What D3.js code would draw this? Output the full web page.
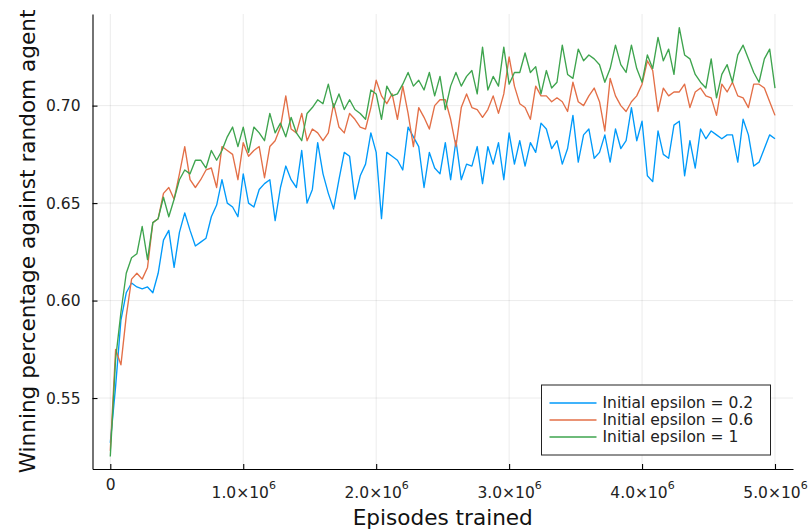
<!DOCTYPE html>
<html>
<head>
<meta charset="utf-8">
<script src="https://cdn.jsdelivr.net/npm/d3@7"></script>
<style>
	body { margin: 0; background: #fff; }
	text { font-family: "DejaVu Sans", sans-serif; }
</style>
</head>
<body>
<svg id="chart" width="808" height="532"></svg>
<script>
const WIDTH = 808,
	  HEIGHT = 532;

// episodes trained, sampled every 40000
const episodes = d3.range(0, 5000001, 40000);

const seriesNames = ["Initial epsilon = 0.2", "Initial epsilon = 0.6", "Initial epsilon = 1"];
const seriesColors = ["#009AFA", "#E36F47", "#3EA44E"];

const eps02 = [
	0.527, 0.556, 0.590, 0.604, 0.609, 0.607, 0.606, 0.607, 0.604, 0.614,
	0.631, 0.636, 0.617, 0.635, 0.645, 0.636, 0.628, 0.630, 0.632, 0.643,
	0.649, 0.662, 0.650, 0.648, 0.643, 0.665, 0.650, 0.648, 0.657, 0.660,
	0.662, 0.641, 0.658, 0.669, 0.662, 0.658, 0.677, 0.650, 0.657, 0.681,
	0.665, 0.655, 0.647, 0.662, 0.676, 0.674, 0.652, 0.664, 0.670, 0.686,
	0.676, 0.642, 0.676, 0.674, 0.672, 0.667, 0.689, 0.684, 0.679, 0.658,
	0.676, 0.668, 0.665, 0.681, 0.662, 0.682, 0.662, 0.670, 0.669, 0.679,
	0.660, 0.679, 0.670, 0.681, 0.662, 0.686, 0.670, 0.682, 0.669, 0.681,
	0.676, 0.691, 0.688, 0.678, 0.682, 0.670, 0.678, 0.695, 0.671, 0.685,
	0.688, 0.673, 0.676, 0.685, 0.671, 0.688, 0.678, 0.682, 0.699, 0.682,
	0.692, 0.664, 0.661, 0.687, 0.675, 0.673, 0.690, 0.692, 0.664, 0.682,
	0.668, 0.688, 0.683, 0.687, 0.685, 0.683, 0.685, 0.685, 0.671, 0.693,
	0.685, 0.669, 0.671, 0.678, 0.685, 0.683
];

const eps06 = [
	0.523, 0.575, 0.567, 0.592, 0.611, 0.614, 0.611, 0.617, 0.640, 0.642,
	0.655, 0.658, 0.652, 0.665, 0.679, 0.662, 0.658, 0.662, 0.667, 0.668,
	0.658, 0.679, 0.677, 0.675, 0.662, 0.681, 0.674, 0.677, 0.679, 0.663,
	0.679, 0.682, 0.689, 0.705, 0.688, 0.686, 0.696, 0.682, 0.688, 0.686,
	0.682, 0.686, 0.701, 0.689, 0.686, 0.696, 0.693, 0.689, 0.688, 0.699,
	0.713, 0.705, 0.701, 0.706, 0.693, 0.710, 0.696, 0.679, 0.699, 0.694,
	0.688, 0.700, 0.703, 0.703, 0.693, 0.679, 0.699, 0.706, 0.699, 0.698,
	0.694, 0.698, 0.705, 0.696, 0.706, 0.725, 0.710, 0.701, 0.699, 0.693,
	0.710, 0.705, 0.705, 0.702, 0.704, 0.702, 0.697, 0.712, 0.702, 0.700,
	0.705, 0.709, 0.702, 0.687, 0.714, 0.705, 0.700, 0.697, 0.702, 0.705,
	0.711, 0.723, 0.718, 0.697, 0.709, 0.705, 0.707, 0.707, 0.711, 0.699,
	0.707, 0.709, 0.705, 0.704, 0.695, 0.711, 0.707, 0.712, 0.705, 0.704,
	0.699, 0.711, 0.711, 0.709, 0.702, 0.695
];

const eps1 = [
	0.520, 0.570, 0.594, 0.614, 0.622, 0.624, 0.638, 0.621, 0.640, 0.642,
	0.653, 0.643, 0.652, 0.662, 0.667, 0.665, 0.672, 0.672, 0.668, 0.677,
	0.672, 0.677, 0.684, 0.689, 0.679, 0.689, 0.676, 0.689, 0.686, 0.682,
	0.696, 0.686, 0.691, 0.684, 0.694, 0.686, 0.682, 0.696, 0.699, 0.703,
	0.701, 0.711, 0.699, 0.706, 0.698, 0.703, 0.698, 0.696, 0.693, 0.708,
	0.706, 0.693, 0.710, 0.705, 0.706, 0.711, 0.717, 0.710, 0.713, 0.708,
	0.717, 0.705, 0.715, 0.698, 0.710, 0.717, 0.710, 0.715, 0.718, 0.706,
	0.730, 0.708, 0.715, 0.710, 0.730, 0.711, 0.717, 0.717, 0.727, 0.717,
	0.720, 0.706, 0.718, 0.709, 0.712, 0.731, 0.716, 0.714, 0.729, 0.723,
	0.726, 0.724, 0.721, 0.712, 0.719, 0.731, 0.721, 0.717, 0.731, 0.719,
	0.712, 0.726, 0.719, 0.735, 0.723, 0.729, 0.716, 0.740, 0.726, 0.724,
	0.716, 0.712, 0.709, 0.724, 0.704, 0.716, 0.721, 0.712, 0.726, 0.731,
	0.724, 0.717, 0.712, 0.724, 0.729, 0.709
];

const xTicks = [0, 1e6, 2e6, 3e6, 4e6, 5e6];
const yTicks = [0.55, 0.60, 0.65, 0.70];

const xLabel = "Episodes trained",
	  yLabel = "Winning percentage against random agent";

// plot area
const plotLeft = 92.5,
	  plotRight = 793,
	  plotTop = 14,
	  plotBottom = 469;

let svg = d3.select("#chart");

let x = d3.scaleLinear()
	.domain([-133900, 5135400])
	.range([plotLeft, plotRight]);

let y = d3.scaleLinear()
	.domain([0.5136, 0.747])
	.range([plotBottom, plotTop]);

// grid
let grid = svg.append("g").attr("class", "grid");

grid.selectAll(".vgrid")
	.data(xTicks)
	.join("line")
		.attr("x1", d => x(d))
		.attr("x2", d => x(d))
		.attr("y1", plotTop)
		.attr("y2", plotBottom)
		.style("stroke", "#000")
		.style("stroke-opacity", 0.1)
		.style("stroke-width", 0.8);

grid.selectAll(".hgrid")
	.data(yTicks)
	.join("line")
		.attr("x1", plotLeft)
		.attr("x2", plotRight)
		.attr("y1", d => y(d))
		.attr("y2", d => y(d))
		.style("stroke", "#000")
		.style("stroke-opacity", 0.1)
		.style("stroke-width", 0.8);

// series lines
let series = [eps02, eps06, eps1];
let line = d3.line()
	.x((d, i) => x(episodes[i]))
	.y(d => y(d));

svg.append("g")
	.selectAll("path")
	.data(series)
	.join("path")
		.attr("d", d => line(d))
		.style("fill", "none")
		.style("stroke", (d, i) => seriesColors[i])
		.style("stroke-width", 1.35)
		.style("stroke-linejoin", "round");

// y axis, ticks point inward
let yAxis = svg.append("g")
	.attr("transform", "translate(" + plotLeft + ",0)")
	.call(d3.axisLeft(y)
		.tickValues(yTicks)
		.tickFormat(d3.format(".2f"))
		.tickSizeInner(-5)
		.tickSizeOuter(0)
		.tickPadding(12));

// x axis
let xAxis = svg.append("g")
	.attr("transform", "translate(0," + plotBottom + ")")
	.call(d3.axisBottom(x)
		.tickValues(xTicks)
		.tickFormat("")
		.tickSizeInner(-5)
		.tickSizeOuter(0));

[xAxis, yAxis].forEach(a => {
	a.select(".domain").style("stroke", "#000").style("stroke-width", 1.1);
	a.selectAll(".tick line").style("stroke", "#000").style("stroke-width", 1.1);
});

yAxis.selectAll(".tick text")
	.style("font-size", "15.5px")
	.style("font-family", "DejaVu Sans")
	.style("fill", "#222");

// x tick labels written as a.0×10^6
xAxis.selectAll(".tick text").remove();
xAxis.selectAll(".tick").each(function(d) {
	let t = d3.select(this).append("text")
		.attr("text-anchor", "middle")
		.style("font-size", "15.5px")
		.style("font-family", "DejaVu Sans")
		.style("fill", "#222");

	if (d == 0) {
		t.attr("y", 21).text("0");
		return;
	}

	t.attr("y", 29);
	t.append("tspan").text((d / 1e6).toFixed(1) + "×10");
	t.append("tspan")
		.attr("dy", -9)
		.style("font-size", "11px")
		.text("6");
});

// axis titles
svg.append("text")
	.attr("x", (plotLeft + plotRight) / 2)
	.attr("y", 525)
	.attr("text-anchor", "middle")
	.style("font-size", "21.6px")
	.style("fill", "#111")
	.text(xLabel);

svg.append("text")
	.attr("transform", "translate(27," + (plotTop + plotBottom) / 2 + ") rotate(-90)")
	.attr("text-anchor", "middle")
	.attr("dominant-baseline", "central")
	.style("font-size", "21.6px")
	.style("fill", "#111")
	.text(yLabel);

// legend
let legend = svg.append("g").attr("transform", "translate(541.5,385)");

legend.append("rect")
	.attr("width", 229)
	.attr("height", 70)
	.style("fill", "#fff")
	.style("stroke", "#222")
	.style("stroke-width", 1);

let items = legend.selectAll(".item")
	.data(seriesNames)
	.join("g")
		.attr("transform", (d, i) => "translate(0," + (18 + i * 17) + ")");

items.append("line")
	.attr("x1", 8)
	.attr("x2", 55)
	.style("stroke", (d, i) => seriesColors[i])
	.style("stroke-width", 1.3);

items.append("text")
	.attr("x", 61)
	.attr("dominant-baseline", "central")
	.style("font-size", "15.5px")
	.style("fill", "#222")
	.text(d => d);
</script>
</body>
</html>
